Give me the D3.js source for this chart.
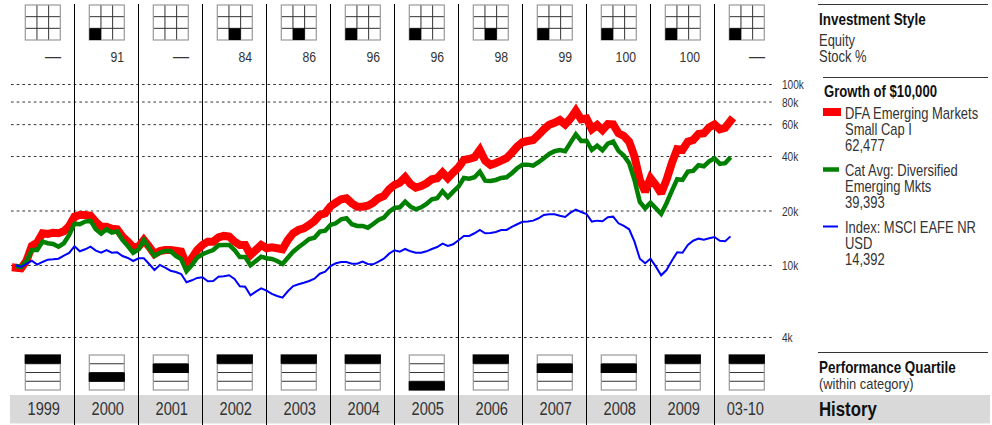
<!DOCTYPE html>
<html><head><meta charset="utf-8">
<script src="https://cdn.jsdelivr.net/npm/d3@7/dist/d3.min.js"></script>
<style>
html,body{margin:0;padding:0;background:#fff}
svg{display:block}
text{font-family:"Liberation Sans",sans-serif;fill:#333}
</style></head><body>
<div id="chart"></div>
<script>
const years = ["1999","2000","2001","2002","2003","2004","2005","2006","2007","2008","2009","03-10"];
const stockPct = ["—","91","—","84","86","96","96","98","99","100","100","—"];
// style box: column of the filled cell in the bottom row, null when empty
const styleCell = [null,0,null,1,1,0,0,1,0,0,0,0];
const quartile = [1,3,2,1,1,1,4,1,2,2,1,1];
const yTicks = [100000,80000,60000,40000,20000,10000,4000];
const tickLabels = ["100k","80k","60k","40k","20k","10k","4k"];

// Month-end values of $10,000, Jan 1999 .. Mar 2010
const fund = [9660,9590,10560,12730,13280,14970,14840,15080,14970,15350,16430,18490,
18900,18900,18730,17310,16280,16280,15870,15750,14340,13450,12530,12620,
13750,12620,11500,11950,12100,12100,12000,11850,10000,10890,12100,12900,
13450,13450,14220,14470,14340,13450,12900,12900,11360,12100,12900,12370,
12530,12370,12210,13750,14970,15610,15950,16640,17510,18900,19300,21090,
22100,23080,23370,21930,21000,21000,21280,22100,23370,24060,26180,27680,
28500,30530,28030,26740,27320,28270,29770,30150,32390,30150,32390,34650,
38030,38520,39360,43210,37690,35710,36620,37690,38900,41740,45030,47660,
48420,49040,52270,56150,59520,61050,63190,59820,64530,71070,63720,64530,
56360,59350,55650,60040,59820,53400,51600,48030,39700,29500,25420,30150,
27680,24880,29500,36510,43600,43210,48030,49040,52900,53400,57590,59820,
56150,57300,62477];
const category = [9870,9750,10520,12100,12100,13450,13180,13060,12620,13180,14650,16920,
16790,17370,17580,15750,14890,15750,15080,15350,13750,12730,11690,12210,
13750,12370,11210,11690,11950,11950,11210,10790,9260,10000,10970,11460,
11800,12100,12850,12900,12900,12100,11070,11070,9960,10520,11110,10890,
10790,10520,10130,10970,11850,12530,13180,13920,14150,15280,15470,16640,
17000,17890,18120,16790,16430,16430,16070,16850,17730,18260,19700,20650,
20830,22380,21000,20320,20830,21730,23080,23370,25550,23670,25420,27090,
30260,29990,30530,32800,29240,29130,29500,30260,30530,32130,34240,35840,
35840,35390,36950,38900,41070,42520,43210,42520,47420,52740,48420,48600,
43210,45620,43040,46820,48030,42680,40210,36510,29500,22280,20570,22100,
20570,19140,21930,25650,29770,29500,32800,33100,35570,35110,37420,38900,
36190,36510,39393];
const index = [9960,9750,10130,10560,10040,10390,10700,10750,10830,11260,11650,12690,
11900,12210,12620,12000,11690,12100,11690,11750,11210,10930,10520,10890,
10890,10130,9380,10000,9660,9300,9150,8920,8030,8230,8480,8550,
8130,8160,8620,8660,8770,8370,7620,7590,6800,7120,7430,7210,
6920,6740,6600,7160,7650,7820,7980,8160,8400,8950,9180,9870,
10220,10390,10390,10170,10170,10430,10130,10090,10430,10830,11550,12060,
11850,12260,11900,11690,11690,11900,12260,12570,13110,12730,13010,13690,
14470,14470,14970,15610,14970,15030,15220,15610,15610,16220,16790,17310,
17370,17580,18120,18900,19070,19070,18730,18430,19460,20210,19630,19140,
17370,17580,17450,18350,18490,17000,16430,15750,13450,10830,10220,10830,
9790,8770,9380,10560,11750,11690,12900,13620,13980,13800,14050,14280,
13620,13520,14392];

const legendRows = [
  {lines:["DFA Emerging Markets","Small Cap I","62,477"],color:"#ff0000",w:8,x2:841,sy:112,ty:119},
  {lines:["Cat Avg: Diversified","Emerging Mkts","39,393"],color:"#008000",w:4.5,x2:839,sy:169.5,ty:176},
  {lines:["Index: MSCI EAFE NR","USD","14,392"],color:"#0000ff",w:2,x2:838,sy:226.5,ty:233}
];

const W=992,H=425;
const svg=d3.select("#chart").append("svg").attr("width",W).attr("height",H);
const x=d3.scaleLinear().domain([0,135]).range([10.5,730.5]);   // months since Dec 1998
const y=d3.scaleLog().domain([4000,100000]).range([337,84]);
const yearX=i=>x(i*12);

// condensed text: no condensed face is installed, so squeeze Liberation Sans horizontally
const SX=0.81;
function label(xx,yy,t,size,opt){
  opt=opt||{};
  return svg.append("text")
    .attr("transform",`translate(${xx},${yy}) scale(${opt.sx||SX},1)`)
    .attr("text-anchor",opt.anchor||"start")
    .style("font-size",size+"px").style("font-weight",opt.weight||"normal")
    .style("fill",opt.color||"#333").text(t);
}

// history band
svg.append("rect").attr("x",10).attr("y",395).attr("width",980).attr("height",28.5).attr("fill","#d9d9d9");

// grid via axis
const axis=d3.axisRight(y).tickValues(yTicks).tickSize(763).tickPadding(8)
  .tickFormat((d,i)=>tickLabels[i]);
const ga=svg.append("g").attr("transform","translate(11,0)").call(axis);
ga.select(".domain").remove();
ga.selectAll(".tick line").attr("stroke","#333").attr("stroke-dasharray","2.6 3.1");
ga.selectAll(".tick text")
  .attr("x",0).attr("dy",0)
  .attr("transform",`translate(771,4.5) scale(${SX},1)`)
  .attr("text-anchor","start").attr("fill","#333").style("font-size","12.5px");

// year dividers
svg.append("g").selectAll("line").data(d3.range(1,12)).join("line")
  .attr("x1",yearX).attr("x2",yearX).attr("y1",4).attr("y2",425)
  .attr("stroke","#000").attr("stroke-width",1);

// series
const line=d3.line().x((d,i)=>x(i+1)).y(d=>y(d)).curve(d3.curveLinear);
[[fund,"#ff0000",8,"square"],[category,"#008000",4.5,"butt"],[index,"#0000ff",2,"butt"]].forEach(([s,c,w,cap])=>{
  svg.append("path").attr("d",line(s)).attr("fill","none").attr("stroke",c)
    .attr("stroke-width",w).attr("stroke-linejoin","miter").attr("stroke-miterlimit",2)
    .attr("stroke-linecap",cap);
});

// style boxes, stock %, quartile, year
years.forEach((yr,i)=>{
  const x0=yearX(i)+14.8, y0=5, s=35, c=s/3;
  const g=svg.append("g").attr("transform",`translate(${x0},${y0})`);
  [1,2].forEach(k=>{
    g.append("line").attr("x1",k*c).attr("x2",k*c).attr("y1",0).attr("y2",s).attr("stroke","#333");
    g.append("line").attr("y1",k*c).attr("y2",k*c).attr("x1",0).attr("x2",s).attr("stroke","#333");
  });
  g.append("rect").attr("width",s).attr("height",s).attr("fill","none").attr("stroke","#999").attr("stroke-width",1.2);
  if(styleCell[i]!==null) g.append("rect").attr("x",styleCell[i]*c).attr("y",2*c).attr("width",c).attr("height",c).attr("fill","#000");

  if(stockPct[i]==="—") label(yearX(i)+50.5,62,"—",16,{anchor:"end",sx:1});
  else label(yearX(i)+49.5,62,stockPct[i],15.5,{anchor:"end",sx:0.79});

  const r=s/4;
  const q=svg.append("g").attr("transform",`translate(${x0},355)`);
  [1,2,3].forEach(k=>q.append("line").attr("x1",0).attr("x2",s).attr("y1",k*r).attr("y2",k*r).attr("stroke","#333"));
  q.append("rect").attr("width",s).attr("height",s).attr("fill","none").attr("stroke","#999").attr("stroke-width",1.2);
  q.append("rect").attr("x",-0.6).attr("width",s+1.2).attr("y",(quartile[i]-1)*r-(quartile[i]==1?0.5:0)).attr("height",r+0.5).attr("fill","#000");

  label(yearX(i)+49.5,415,yr,18.5,{anchor:"end",sx:0.79});
});

// right column
const rule=(x1,x2,yy)=>svg.append("line").attr("x1",x1).attr("x2",x2).attr("y1",yy).attr("y2",yy).attr("stroke","#333").attr("stroke-width",1);
const bold={weight:"bold",color:"#111",sx:0.84};
rule(818,988,4.5);
label(819,25,"Investment Style",16,bold);
label(819,46,"Equity",16);
label(819,62,"Stock %",16);
rule(823,988,77.5);
label(824,97,"Growth of $10,000",16,{weight:"bold",color:"#111",sx:0.82});
legendRows.forEach(r=>{
  svg.append("line").attr("x1",823).attr("x2",r.x2).attr("y1",r.sy).attr("y2",r.sy).attr("stroke",r.color).attr("stroke-width",r.w);
  r.lines.forEach((t,i)=>label(845,r.ty+i*16,t,16));
});
rule(818,988,352.5);
label(819,373,"Performance Quartile",16,bold);
label(819,389,"(within category)",15,{sx:0.86});
label(819,416,"History",21,{weight:"bold",color:"#111",sx:0.8});
</script>
</body></html>
